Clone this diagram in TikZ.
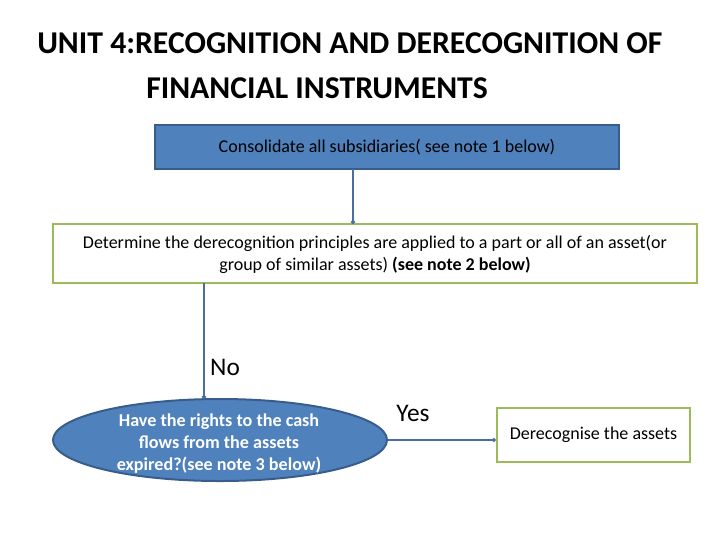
\documentclass[tikz,border=0pt]{standalone}
\usepackage{fontspec}
\setmainfont{Carlito}
\usetikzlibrary{shapes.geometric,arrows.meta}
\begin{document}
\begin{tikzpicture}[x=0.75pt,y=-0.75pt,
  blu/.style={fill={rgb,255:red,79;green,129;blue,189},draw={rgb,255:red,56;green,93;blue,138},line width=1.5pt},
  grn/.style={fill=white,draw={rgb,255:red,155;green,187;blue,89},line width=1.8pt},
  conn/.style={draw={rgb,255:red,74;green,110;blue,160},line width=1pt},
  tip/.style={conn,-{Circle[length=3pt]}}]
\useasboundingbox (0,0) rectangle (720,540);
\node[font=\bfseries\fontsize{23.8}{28}\selectfont,anchor=west,inner sep=0pt] (t1) at (37,43) {UNIT 4:RECOGNITION AND DERECOGNITION OF};
\node[font=\bfseries\fontsize{23.8}{28}\selectfont,anchor=west,inner sep=0pt] (t2) at (146,88) {FINANCIAL INSTRUMENTS};
\path[blu] (155,125) rectangle (619,169);
\node[font=\fontsize{13.5}{16}\selectfont] (b1) at (387,147) {Consolidate all subsidiaries( see note 1 below)};
\coordinate (b1b) at (353,169);
\path[grn] (53,224) rectangle (697,283);
\coordinate (b2t) at (353,224);
\node[font=\fontsize{13.5}{16.5}\selectfont,align=center] (b2) at (375,254) {Determine the derecognition principles are applied to a part or all of an asset(or\\group of similar assets) \textbf{(see note 2 below)}};
\coordinate (b2b) at (204,283);
\node[blu,ellipse,minimum width=334*0.75pt,minimum height=82*0.75pt,inner sep=0pt] (e) at (220,440) {};
\node[font=\bfseries\fontsize{13.6}{16.5}\selectfont,align=center,text=white] at (219,444) {Have the rights to the cash\\flows from the assets\\expired?(see note 3 below)};
\coordinate (et) at (204,399);
\node[grn,minimum width=193*0.75pt,minimum height=54*0.75pt,font=\fontsize{13.5}{16}\selectfont] (b3) at (593.5,435) {Derecognise the assets};
\draw[tip] (b1b) -- (b2t);
\draw[tip] (b2b) -- (et);
\draw[tip] (e.east) -- (b3.west |- e.east);
\node[font=\fontsize{19}{22}\selectfont] (no) at (225,367) {No};
\node[font=\fontsize{19}{22}\selectfont] (yes) at (413,413) {Yes};
\end{tikzpicture}
\end{document}
